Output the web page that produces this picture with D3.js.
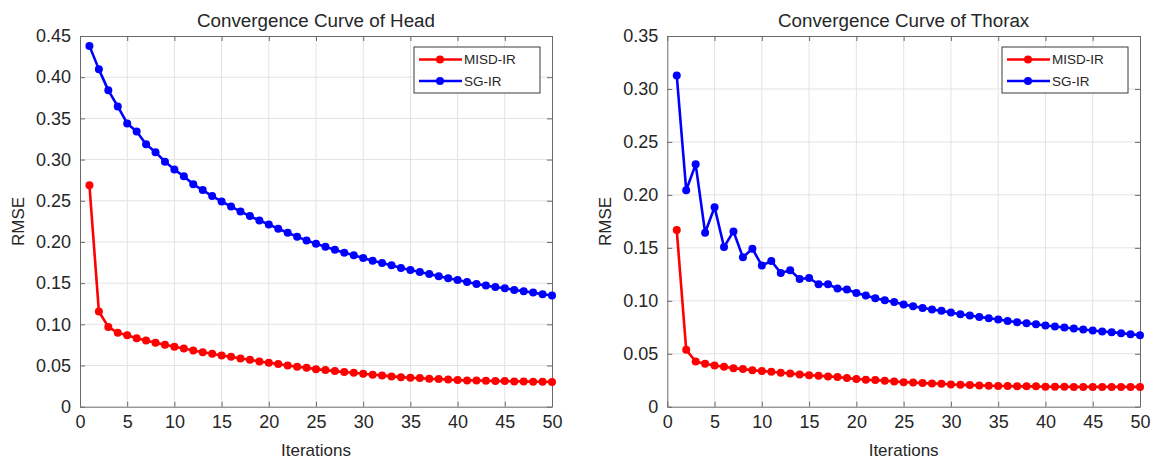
<!DOCTYPE html>
<html><head><meta charset="utf-8">
<script src="https://cdn.jsdelivr.net/npm/d3@7"></script>
<style>body{margin:0;background:#fff}svg{display:block}text{font-family:"Liberation Sans",Arial,Helvetica,sans-serif}</style>
</head><body>
<svg id="c" width="1153" height="461"></svg>
<script>
const iterations = d3.range(1, 51);
const seriesNames = ["MISD-IR", "SG-IR"];
const seriesColors = ["#ff0000", "#0000ff"];
const xTicks = [0,5,10,15,20,25,30,35,40,45,50];

const headTitle = "Convergence Curve of Head";
const headYTicks = [0,0.05,0.10,0.15,0.20,0.25,0.30,0.35,0.40,0.45];
const headMISD = [0.2687,0.1155,0.0969,0.0897,0.0868,0.0832,0.0804,0.0775,0.0751,0.0727,
  0.0707,0.0683,0.0662,0.0642,0.0622,0.0606,0.0586,0.0569,0.0549,0.0533,
  0.0517,0.0501,0.0485,0.0473,0.0456,0.0444,0.0432,0.0420,0.0412,0.0400,
  0.0388,0.0380,0.0368,0.0359,0.0351,0.0347,0.0339,0.0335,0.0331,0.0323,
  0.0319,0.0319,0.0315,0.0311,0.0311,0.0307,0.0307,0.0303,0.0303,0.0299];
const headSG = [0.4380,0.4095,0.3840,0.3645,0.3438,0.3340,0.3186,0.3090,0.2975,0.2878,
  0.2797,0.2700,0.2630,0.2557,0.2492,0.2430,0.2370,0.2314,0.2260,0.2213,
  0.2160,0.2112,0.2064,0.2019,0.1979,0.1943,0.1906,0.1870,0.1838,0.1805,
  0.1773,0.1745,0.1716,0.1684,0.1660,0.1636,0.1611,0.1583,0.1559,0.1539,
  0.1515,0.1490,0.1470,0.1454,0.1438,0.1418,0.1401,0.1385,0.1365,0.1349];

const thoraxTitle = "Convergence Curve of Thorax";
const thoraxYTicks = [0,0.05,0.10,0.15,0.20,0.25,0.30,0.35];
const thoraxMISD = [0.1668,0.0537,0.0427,0.0405,0.0389,0.0377,0.0364,0.0355,0.0345,0.0336,
  0.0330,0.0320,0.0314,0.0305,0.0298,0.0292,0.0286,0.0280,0.0270,0.0261,
  0.0254,0.0251,0.0245,0.0239,0.0232,0.0229,0.0223,0.0220,0.0217,0.0210,
  0.0207,0.0204,0.0201,0.0198,0.0195,0.0195,0.0192,0.0192,0.0192,0.0188,
  0.0188,0.0188,0.0187,0.0187,0.0187,0.0187,0.0187,0.0187,0.0187,0.0187];
const thoraxSG = [0.3127,0.2044,0.2288,0.1643,0.1884,0.1508,0.1655,0.1410,0.1492,0.1332,
  0.1376,0.1263,0.1288,0.1206,0.1215,0.1156,0.1156,0.1115,0.1106,0.1074,
  0.1049,0.1024,0.1005,0.0989,0.0964,0.0948,0.0933,0.0917,0.0905,0.0889,
  0.0873,0.0861,0.0848,0.0835,0.0823,0.0810,0.0798,0.0788,0.0779,0.0766,
  0.0757,0.0747,0.0738,0.0729,0.0719,0.0710,0.0704,0.0694,0.0685,0.0675];

const svg = d3.select("#c");
const axisColor = "#6b6b6b", textColor = "#262626", gridColor = "#e3e3e3";

function fmt(v){ return v === 0 ? "0" : d3.format(".2f")(v); }

function drawPanel(p){
  const g = svg.append("g");
  const x = d3.scaleLinear().domain([0,50]).range([p.left, p.right]);
  const y = d3.scaleLinear().domain([0, d3.max(p.yTicks)]).range([p.bottom, p.top]);
  // grid
  g.append("g").selectAll("line").data(xTicks.slice(1,-1)).join("line")
    .attr("x1", d=>x(d)).attr("x2", d=>x(d)).attr("y1", p.top).attr("y2", p.bottom)
    .attr("stroke", gridColor).attr("stroke-width", 1);
  g.append("g").selectAll("line").data(p.yTicks.slice(1,-1)).join("line")
    .attr("y1", d=>y(d)).attr("y2", d=>y(d)).attr("x1", p.left).attr("x2", p.right)
    .attr("stroke", gridColor).attr("stroke-width", 1);
  // axes
  const ax = [
    [d3.axisBottom(x).tickValues(xTicks).tickSizeInner(-5).tickSizeOuter(0).tickPadding(9).tickFormat(d3.format("d")), `translate(0,${p.bottom})`],
    [d3.axisTop(x).tickValues(xTicks).tickSizeInner(-5).tickSizeOuter(0).tickFormat(""), `translate(0,${p.top})`],
    [d3.axisLeft(y).tickValues(p.yTicks).tickSizeInner(-5).tickSizeOuter(0).tickPadding(9).tickFormat(fmt), `translate(${p.left},0)`],
    [d3.axisRight(y).tickValues(p.yTicks).tickSizeInner(-5).tickSizeOuter(0).tickFormat(""), `translate(${p.right},0)`]
  ];
  ax.forEach(([a, t]) => {
    const ag = g.append("g").attr("transform", t).call(a);
    ag.select(".domain").attr("stroke", axisColor);
    ag.selectAll(".tick line").attr("stroke", axisColor);
    ag.selectAll(".tick text").attr("fill", textColor).style("font-size", "18px")
      .style("font-family", '"Liberation Sans",Arial,sans-serif');
  });
  // series
  const series = [p.misd, p.sg];
  series.forEach((vals, i) => {
    const line = d3.line().x((d,j)=>x(iterations[j])).y(d=>y(d));
    g.append("path").datum(vals).attr("d", line).attr("fill","none")
      .attr("stroke", seriesColors[i]).attr("stroke-width", 2.6).attr("stroke-linejoin","round");
    g.append("g").selectAll("circle").data(vals).join("circle")
      .attr("cx", (d,j)=>x(iterations[j])).attr("cy", d=>y(d)).attr("r", 4)
      .attr("fill", seriesColors[i]);
  });
  // title and labels
  g.append("text").attr("x", (p.left+p.right)/2).attr("y", 27).attr("text-anchor","middle")
    .attr("fill", textColor).style("font-size","18.8px").text(p.title);
  g.append("text").attr("x", (p.left+p.right)/2).attr("y", 456).attr("text-anchor","middle")
    .attr("fill", textColor).style("font-size","17px").text("Iterations");
  g.append("text").attr("transform", `translate(${p.left-56},${(p.top+p.bottom)/2}) rotate(-90)`)
    .attr("text-anchor","middle").attr("fill", textColor).style("font-size","17px").text("RMSE");
  // legend
  const lx = p.right - 138, ly = 47, lw = 126, lh = 46;
  const lg = g.append("g");
  lg.append("rect").attr("x", lx).attr("y", ly).attr("width", lw).attr("height", lh)
    .attr("fill","#fff").attr("stroke","#3a3a3a").attr("stroke-width",1);
  seriesNames.forEach((n, i) => {
    const yy = ly + 12.5 + i*21.5;
    lg.append("line").attr("x1", lx+5).attr("x2", lx+48).attr("y1", yy).attr("y2", yy)
      .attr("stroke", seriesColors[i]).attr("stroke-width", 2.6);
    lg.append("circle").attr("cx", lx+26).attr("cy", yy).attr("r", 4).attr("fill", seriesColors[i]);
    lg.append("text").attr("x", lx+50).attr("y", yy+4.7).attr("fill", textColor)
      .style("font-size","13.5px").text(n);
  });
}

drawPanel({left:80, right:552, top:36, bottom:406.7, yTicks: headYTicks, misd: headMISD, sg: headSG, title: headTitle});
drawPanel({left:667.3, right:1140, top:36, bottom:406.7, yTicks: thoraxYTicks, misd: thoraxMISD, sg: thoraxSG, title: thoraxTitle});
</script>
</body></html>
